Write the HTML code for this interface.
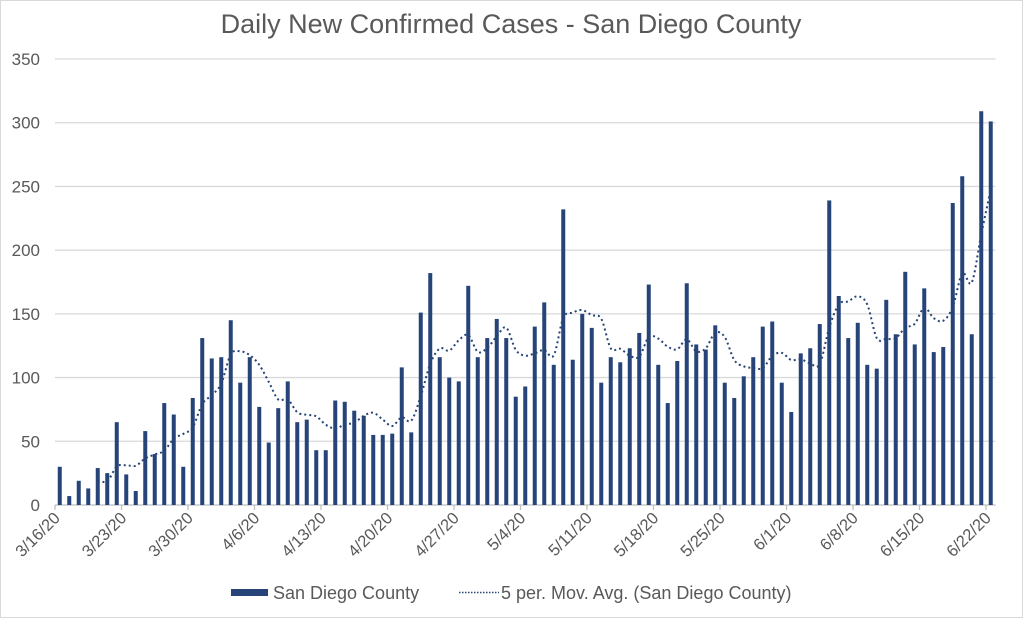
<!DOCTYPE html>
<html><head><meta charset="utf-8"><style>
html,body{margin:0;padding:0;background:#fff}
svg{display:block}
text{font-family:"Liberation Sans",Arial,sans-serif;fill:#595959}
</style></head><body>
<svg id="c" width="1023" height="618" viewBox="0 0 1023 618" xmlns="http://www.w3.org/2000/svg">
<rect x="0.5" y="0.5" width="1022" height="617" fill="#fff" stroke="#d9d9d9"/>
<text x="511" y="33" font-size="27" text-anchor="middle">Daily New Confirmed Cases - San Diego County</text>
<g id="grid"></g><g id="bars"></g><g id="ma"></g><g id="lab"></g>
<rect x="231" y="589" width="37" height="7" fill="#264478"/>
<text x="273" y="599" font-size="18">San Diego County</text>
<line x1="459" y1="592.5" x2="499" y2="592.5" stroke="#264478" stroke-width="1.5" stroke-dasharray="1.5,1.5"/>
<text x="501" y="599" font-size="18">5 per. Mov. Avg. (San Diego County)</text>
</svg>
<script>
var v=[30,7,19,13,29,25,65,24,11,58,40,80,71,30,84,131,115,116,145,96,116,77,49,76,97,65,67,43,43,82,81,74,70,55,55,56,108,57,151,182,116,100,97,172,116,131,146,131,85,93,140,159,110,232,114,150,139,96,116,112,123,135,173,110,80,113,174,126,122,141,96,84,101,116,140,144,96,73,119,123,142,239,164,131,143,110,107,161,134,183,126,170,120,124,237,258,134,309,301];
var NS="http://www.w3.org/2000/svg";
function el(p,t,a,txt){var e=document.createElementNS(NS,t);for(var k in a)e.setAttribute(k,a[k]);if(txt!==undefined)e.textContent=txt;document.getElementById(p).appendChild(e);return e;}
var y0=505,s=446/350,x0=55,w=9.5,xr=x0+v.length*w;
for(var g=0;g<=350;g+=50){var y=y0-g*s;
 if(g>0)el("grid","line",{x1:x0,x2:xr,y1:y,y2:y,stroke:"#d9d9d9","stroke-width":1.3});
 el("lab","text",{x:40,y:y+6,"font-size":17,"text-anchor":"end"},g);}
el("grid","line",{x1:x0,x2:xr,y1:y0,y2:y0,stroke:"#bfbfbf","stroke-width":1.3});
var d=["3/16/20","3/23/20","3/30/20","4/6/20","4/13/20","4/20/20","4/27/20","5/4/20","5/11/20","5/18/20","5/25/20","6/1/20","6/8/20","6/15/20","6/22/20"];
for(var i=0;i<d.length;i++){var x=x0+i*7*w;
 el("grid","line",{x1:x,x2:x,y1:y0,y2:y0+5,stroke:"#bfbfbf","stroke-width":1.3});
 el("lab","text",{x:0,y:0,"font-size":16.5,"text-anchor":"end",transform:"translate("+(x+6)+","+(y0+14)+") rotate(-45)"},d[i]);}
for(var i=0;i<v.length;i++){var cx=x0+(i+0.5)*w,h=v[i]*s;
 el("bars","rect",{x:cx-2,y:y0-h,width:4,height:h,fill:"#264478"});}
var pts=[];for(var i=4;i<v.length;i++){var m=(v[i]+v[i-1]+v[i-2]+v[i-3]+v[i-4])/5;pts.push([x0+(i+0.5)*w,y0-m*s]);}
var p="M"+pts[0][0]+","+pts[0][1];
for(var i=1;i<pts.length;i++){var a=pts[i-2]||pts[i-1],b=pts[i-1],c=pts[i],e=pts[i+1]||c;
 var c1x=b[0]+(c[0]-a[0])/6,c1y=b[1]+(c[1]-a[1])/6,c2x=c[0]-(e[0]-b[0])/6,c2y=c[1]-(e[1]-b[1])/6;
 p+=" C"+c1x+","+c1y+" "+c2x+","+c2y+" "+c[0]+","+c[1];}
el("ma","path",{d:p,fill:"none",stroke:"#264478","stroke-width":2,"stroke-dasharray":"2,3"});
</script>
</body></html>
